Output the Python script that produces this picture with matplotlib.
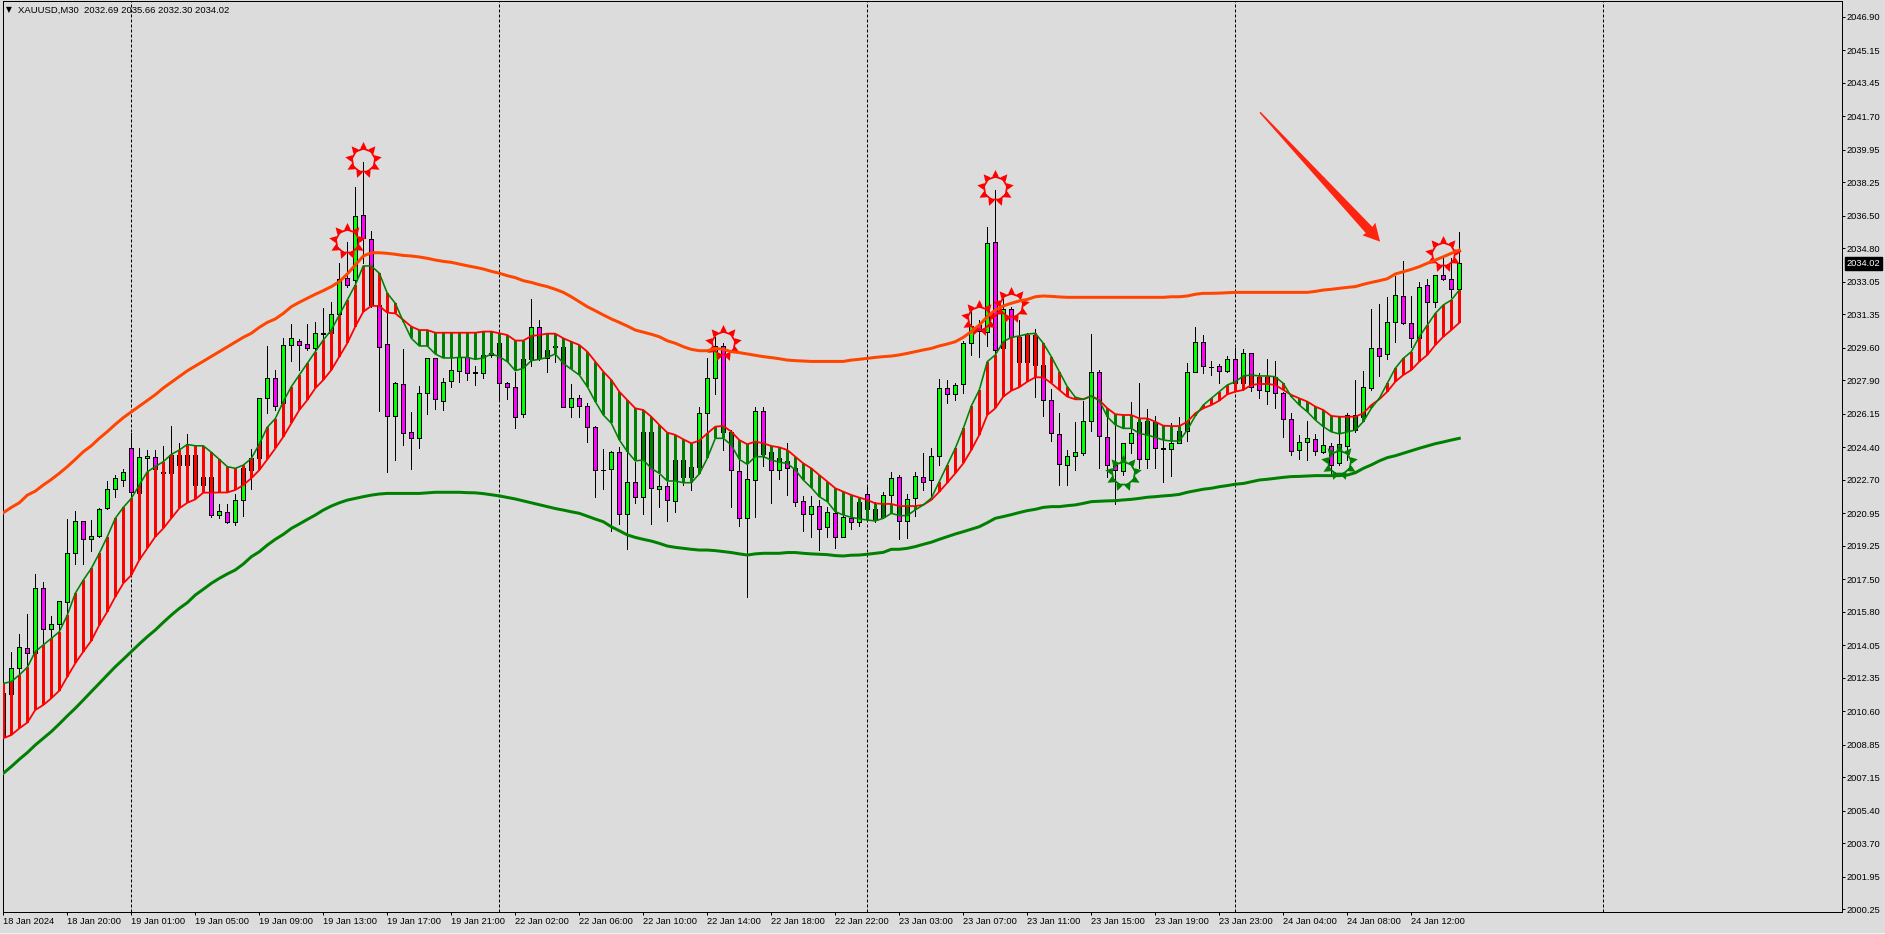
import numpy as np
import matplotlib
matplotlib.use("Agg")
import matplotlib.pyplot as plt
from matplotlib.path import Path
from matplotlib.patches import Polygon, Rectangle

plt.rcParams['font.family'] = ['Liberation Sans', 'DejaVu Sans']

# All prices are stored as offsets above this base
BASE = 2000.0

opens = [9.27,11.51,12.85,13.89,13.63,17.03,14.89,15.15,16.30,18.86,
20.53,19.59,19.75,21.21,22.20,22.67,24.34,22.03,23.86,23.91,
23.04,23.04,23.99,23.99,23.99,22.43,22.86,20.88,21.03,20.51,
21.63,23.22,23.83,26.96,28.01,26.70,29.73,29.98,29.78,29.57,
30.34,30.36,31.35,33.23,33.15,36.53,35.27,31.84,29.78,26.06,
27.69,25.19,24.87,27.22,29.05,26.80,27.85,28.41,29.10,28.30,
28.27,29.23,29.84,27.75,27.57,26.13,29.00,30.67,29.05,29.66,
29.66,26.53,26.96,26.58,25.45,23.19,23.25,24.17,20.89,22.57,
21.82,25.18,22.24,22.38,21.61,23.73,22.83,23.35,26.18,28.01,
29.71,25.22,23.15,20.69,22.68,26.28,24.14,23.20,23.67,23.30,
21.60,20.90,21.32,20.22,20.95,19.70,20.69,20.52,21.94,20.64,
20.74,21.89,22.83,20.53,21.77,22.83,22.68,23.96,27.48,27.20,
27.69,29.84,30.79,30.45,35.11,29.57,31.61,30.18,28.88,30.27,
28.70,26.87,25.08,23.46,23.93,24.09,25.76,28.32,24.92,23.46,
23.16,24.61,25.74,23.77,25.74,24.33,24.30,24.64,25.27,28.32,
29.89,28.58,28.63,28.37,29.00,27.74,29.31,28.09,27.33,28.09,
27.22,25.86,24.24,24.70,24.82,24.17,24.47,23.57,24.49,25.30,
26.00,27.52,29.57,29.26,30.93,32.29,30.88,30.09,32.87,31.98,
33.39,33.18,32.69]

highs = [13.19,13.68,14.62,15.67,17.78,17.34,15.58,16.35,20.65,21.07,
20.53,20.60,21.21,22.64,22.95,23.25,25.13,24.34,24.26,24.26,
24.47,25.51,24.60,25.09,24.52,23.56,22.95,21.43,21.43,21.96,
23.40,24.29,26.96,29.70,28.44,30.10,30.85,30.05,30.83,30.93,
31.66,31.98,34.02,35.11,38.00,39.30,35.69,32.00,31.40,27.83,
29.52,26.23,27.62,29.05,29.05,28.01,29.05,29.14,29.14,28.65,
29.31,29.49,29.84,27.80,28.36,29.02,32.15,31.06,29.49,29.75,
29.70,27.69,27.14,26.70,25.52,24.31,24.22,24.40,24.26,23.65,
25.40,25.40,22.95,22.60,23.73,23.73,23.40,26.53,29.05,30.15,
29.84,25.30,23.74,23.91,26.53,26.53,24.44,24.26,24.61,23.56,
21.87,21.87,21.65,21.30,21.21,20.95,21.04,21.65,22.31,21.56,
22.08,23.13,22.95,21.94,23.09,24.12,24.35,27.95,27.92,27.78,
29.97,31.58,31.05,35.90,37.85,32.19,31.75,31.05,30.35,30.57,
29.00,27.43,26.18,24.26,25.71,26.84,30.32,28.44,26.00,25.51,
24.61,26.75,27.74,26.39,26.04,25.48,25.66,26.00,28.79,30.67,
30.27,28.91,28.76,29.19,29.57,29.52,29.35,28.30,29.02,28.91,
27.30,26.18,25.06,25.78,25.08,25.57,24.61,26.00,26.18,27.92,
28.39,31.63,31.89,32.27,33.35,34.14,32.31,33.06,33.20,33.41,
34.36,34.28,35.66]

lows = [9.10,11.37,12.59,13.02,13.54,13.98,14.33,14.85,15.72,18.30,
18.30,18.98,19.73,21.16,21.82,22.39,21.91,22.03,23.21,23.04,
23.00,23.00,23.39,23.39,22.43,22.34,20.77,20.69,20.43,20.36,
20.81,22.21,23.75,26.18,26.35,26.53,28.93,28.44,29.50,29.49,
29.84,30.19,31.32,32.80,32.80,34.02,31.75,26.32,23.13,23.74,
24.52,23.27,24.38,26.14,26.39,26.35,27.54,27.83,27.92,27.66,
28.04,29.14,26.90,26.95,25.43,26.00,28.65,28.96,28.36,28.88,
26.49,26.00,26.00,24.70,21.82,22.22,20.04,20.39,19.10,21.50,
20.91,20.39,21.30,20.56,21.03,22.43,22.17,23.20,25.22,27.19,
24.26,21.26,20.31,16.60,20.74,23.42,21.47,22.73,21.91,21.35,
20.05,19.73,19.03,19.73,19.16,19.70,20.13,20.31,20.78,20.48,
20.69,21.30,19.59,19.68,20.83,22.17,21.82,23.48,26.73,26.87,
27.26,29.23,29.14,29.72,28.96,29.49,30.10,28.62,28.62,27.05,
26.05,24.75,22.43,22.43,23.22,24.00,25.27,23.30,22.87,21.42,
22.95,24.09,23.30,23.30,23.30,22.61,22.92,24.61,24.75,28.32,
28.30,28.18,27.78,28.35,27.40,27.40,27.34,27.00,26.66,26.44,
24.96,24.00,23.79,23.74,24.00,24.09,23.04,23.48,23.74,25.20,
25.83,27.40,28.12,29.02,29.89,30.83,29.66,30.04,30.79,31.75,
33.14,32.27,32.30]

closes = [11.54,12.85,13.94,13.63,17.03,14.89,15.15,16.35,18.86,20.53,
19.59,19.75,21.16,22.20,22.78,23.09,22.04,23.87,23.94,23.25,
23.12,23.99,23.47,23.47,22.43,22.86,20.86,21.09,20.48,21.63,
23.30,23.85,26.96,28.01,26.56,29.75,30.10,29.73,29.57,30.36,
30.38,31.35,33.20,32.87,36.47,35.32,31.84,29.66,26.06,27.75,
25.13,24.87,27.22,29.05,26.90,27.83,28.44,29.14,28.27,28.34,
29.23,29.31,27.75,27.54,25.97,29.00,30.67,29.05,29.49,29.70,
26.53,26.96,26.58,25.48,23.22,23.23,24.17,20.89,22.57,21.82,
25.18,22.25,22.38,21.66,23.73,22.83,23.35,26.18,28.01,29.71,
25.22,23.22,20.69,22.73,26.28,24.05,23.20,23.83,23.30,21.56,
20.90,21.32,20.12,21.00,19.70,20.78,20.52,21.56,21.16,21.16,
21.89,22.78,20.53,21.72,22.88,22.61,23.93,27.48,27.20,27.64,
29.84,30.76,30.48,35.06,29.49,31.61,30.18,28.88,30.27,28.70,
26.87,25.13,23.53,23.93,24.14,25.76,28.32,24.97,23.46,23.20,
24.61,25.13,23.77,25.79,24.37,24.37,24.64,25.27,28.32,29.89,
28.65,28.62,28.37,29.03,27.74,29.31,27.57,27.40,28.09,27.22,
25.86,24.19,24.66,24.87,24.19,24.52,23.46,24.56,26.09,26.09,
27.53,29.57,29.19,30.93,32.34,30.88,30.09,32.76,31.98,33.39,
33.18,32.66,34.02]

ma_fast = [12.06,12.15,12.50,12.90,13.72,14.07,14.41,14.76,15.63,16.77,
17.46,18.07,18.86,19.73,20.69,21.26,21.73,22.43,23.12,23.39,
23.65,24.03,24.26,24.55,24.48,24.48,24.14,23.77,23.39,23.30,
23.47,23.82,24.57,25.45,25.90,26.79,27.57,28.18,28.79,29.40,
30.01,30.53,31.32,32.10,32.89,33.88,33.88,33.50,32.45,31.93,
30.97,30.10,29.70,29.70,29.28,29.07,29.07,29.10,29.10,29.00,
29.07,29.28,29.14,28.88,28.41,28.53,28.93,29.00,29.10,29.28,
28.79,28.48,28.18,27.57,26.79,26.09,25.66,24.79,24.18,23.69,
23.74,23.30,23.04,22.64,22.64,22.55,22.55,23.01,23.83,24.87,
24.87,24.52,23.77,23.51,23.91,23.91,23.74,23.62,23.56,23.22,
22.69,22.29,21.82,21.56,21.04,20.86,20.74,20.66,20.60,20.55,
20.69,20.95,20.83,20.83,21.13,21.39,21.74,22.61,23.48,24.35,
25.39,26.56,27.40,28.88,29.23,29.92,30.15,30.22,30.32,30.36,
29.84,29.14,28.35,27.57,27.02,26.91,27.08,26.84,26.00,25.57,
25.39,25.39,25.13,25.04,24.92,24.78,24.73,24.73,25.31,26.04,
26.61,26.96,27.31,27.66,27.83,28.13,28.18,28.13,28.13,28.09,
27.74,27.05,26.61,26.26,25.83,25.48,25.21,25.10,25.21,25.30,
25.74,26.44,26.96,27.74,28.53,29.05,29.40,30.18,30.79,31.40,
31.84,32.10,32.62]

ma_slow = [9.19,9.36,9.71,10.01,10.67,10.93,11.28,11.68,12.41,13.11,
13.72,14.29,15.11,15.81,16.59,17.29,17.72,18.51,19.12,19.73,
20.16,20.69,21.21,21.50,21.68,22.03,22.03,22.04,22.04,22.17,
22.43,22.78,23.21,23.77,24.34,24.95,25.65,26.35,26.87,27.49,
27.92,28.44,29.14,29.84,30.71,31.49,31.79,31.79,31.44,31.40,
31.06,30.71,30.53,30.53,30.39,30.39,30.39,30.39,30.39,30.39,
30.45,30.45,30.36,30.27,29.98,29.98,30.22,30.27,30.34,30.34,
30.10,29.92,29.75,29.40,28.88,28.36,27.92,27.31,26.87,26.44,
26.35,26.00,25.57,25.17,25.05,24.82,24.61,24.75,25.13,25.48,
25.52,25.22,24.78,24.56,24.70,24.61,24.47,24.40,24.26,23.91,
23.56,23.30,22.95,22.61,22.26,22.08,21.91,21.77,21.65,21.47,
21.44,21.44,21.33,21.33,21.33,21.39,21.65,22.08,22.55,23.04,
23.56,24.26,25.05,26.09,26.44,27.05,27.36,27.54,27.83,28.06,
28.06,27.75,27.40,27.05,26.91,26.91,27.08,26.87,26.44,26.13,
26.09,26.09,25.91,25.91,25.74,25.53,25.51,25.51,25.74,26.18,
26.44,26.61,26.84,27.17,27.31,27.40,27.66,27.71,27.71,27.66,
27.40,27.14,26.96,26.79,26.53,26.35,26.04,26.00,26.00,26.00,
26.18,26.61,26.91,27.31,27.83,28.18,28.44,28.88,29.23,29.75,
30.18,30.53,30.91]

ma_upper = [20.98,21.26,21.50,21.90,22.11,22.43,22.72,23.04,23.39,23.77,
24.17,24.48,24.87,25.22,25.60,25.95,26.25,26.55,26.85,27.15,
27.50,27.80,28.10,28.40,28.65,28.90,29.15,29.40,29.65,29.90,
30.15,30.36,30.67,30.93,31.11,31.40,31.75,31.98,32.19,32.40,
32.59,32.80,33.06,33.46,33.93,34.40,34.57,34.57,34.54,34.49,
34.43,34.40,34.35,34.28,34.19,34.12,34.07,33.98,33.89,33.81,
33.72,33.60,33.50,33.37,33.27,33.11,33.02,32.90,32.80,32.66,
32.50,32.27,32.01,31.75,31.54,31.32,31.11,30.93,30.74,30.53,
30.42,30.31,30.18,29.97,29.84,29.66,29.52,29.45,29.45,29.57,
29.52,29.40,29.35,29.28,29.21,29.14,29.09,29.03,28.96,28.93,
28.91,28.89,28.89,28.89,28.89,28.89,28.96,29.00,29.05,29.10,
29.14,29.17,29.23,29.31,29.40,29.49,29.57,29.70,29.80,29.92,
30.15,30.45,30.79,31.23,31.58,31.79,31.93,32.05,32.13,32.27,
32.31,32.29,32.26,32.24,32.24,32.24,32.24,32.24,32.24,32.24,
32.24,32.24,32.24,32.24,32.24,32.24,32.27,32.27,32.31,32.40,
32.45,32.45,32.46,32.48,32.50,32.50,32.50,32.50,32.50,32.50,
32.50,32.50,32.50,32.50,32.55,32.62,32.66,32.71,32.76,32.80,
32.92,33.02,33.11,33.21,33.46,33.58,33.70,33.84,34.02,34.19,
34.36,34.54,34.71]

ma_lower = [7.36,7.71,8.09,8.44,8.84,9.19,9.54,9.94,10.36,10.76,
11.19,11.63,12.06,12.50,12.93,13.32,13.72,14.12,14.50,14.85,
15.25,15.63,15.98,16.28,16.68,16.98,17.29,17.55,17.78,17.99,
18.30,18.68,18.94,19.29,19.59,19.85,20.16,20.39,20.63,20.86,
21.12,21.33,21.50,21.64,21.73,21.82,21.90,21.96,21.99,21.99,
21.99,21.99,21.99,22.02,22.05,22.05,22.05,22.05,22.03,22.02,
21.98,21.92,21.86,21.78,21.70,21.60,21.50,21.40,21.30,21.20,
21.12,21.03,20.95,20.80,20.65,20.51,20.25,20.04,19.82,19.69,
19.59,19.50,19.38,19.24,19.17,19.12,19.07,19.03,19.03,19.00,
18.95,18.90,18.83,18.77,18.83,18.86,18.86,18.86,18.90,18.90,
18.86,18.83,18.81,18.79,18.74,18.72,18.76,18.77,18.81,18.86,
18.91,19.07,19.07,19.12,19.21,19.33,19.44,19.59,19.73,19.87,
19.99,20.12,20.25,20.46,20.69,20.78,20.88,20.99,21.09,21.16,
21.26,21.30,21.30,21.35,21.39,21.47,21.56,21.58,21.60,21.61,
21.65,21.68,21.73,21.79,21.82,21.86,21.89,21.94,22.05,22.13,
22.21,22.26,22.34,22.40,22.47,22.51,22.60,22.69,22.73,22.78,
22.83,22.87,22.88,22.90,22.92,22.92,22.92,22.92,22.95,23.07,
23.30,23.48,23.69,23.86,23.96,24.09,24.22,24.35,24.47,24.59,
24.68,24.78,24.87]

# Sun-shaped signal markers: bar index and price offset
sun_red_bars = [45, 43, 90, 124, 122, 126, 180]
sun_red_prices = [39.42, 35.20, 29.87, 37.94, 31.17, 31.84, 34.49]
sun_green_bars = [140, 167]
sun_green_prices = [23.04, 23.65]

# Hand-drawn arrow in bar index and price offset
arrow_bars = [157.15, 171.14, 171.5, 172.1, 169.9, 170.31, 157.03]
arrow_prices = [41.94, 35.92, 36.14, 35.15, 35.48, 35.60, 41.88]

separator_bars = [16, 62, 108, 154, 200]

x_tick_bars = [0, 8, 16, 24, 32, 40, 48, 56, 64, 72, 80, 88, 96, 104, 112, 120, 128,
               136, 144, 152, 160, 168, 176]
x_tick_labels = ["18 Jan 2024", "18 Jan 20:00", "19 Jan 01:00", "19 Jan 05:00", "19 Jan 09:00",
                 "19 Jan 13:00", "19 Jan 17:00", "19 Jan 21:00", "22 Jan 02:00", "22 Jan 06:00",
                 "22 Jan 10:00", "22 Jan 14:00", "22 Jan 18:00", "22 Jan 22:00", "23 Jan 03:00",
                 "23 Jan 07:00", "23 Jan 11:00", "23 Jan 15:00", "23 Jan 19:00", "23 Jan 23:00",
                 "24 Jan 04:00", "24 Jan 08:00", "24 Jan 12:00"]
y_tick_values = [2046.90, 2045.15, 2043.45, 2041.70, 2039.95, 2038.25, 2036.50, 2034.80, 2033.05,
                 2031.35, 2029.60, 2027.90, 2026.15, 2024.40, 2022.70, 2020.95, 2019.25, 2017.50,
                 2015.80, 2014.05, 2012.35, 2010.60, 2008.85, 2007.15, 2005.40, 2003.70, 2001.95,
                 2000.25]

title_text = "XAUUSD,M30  2032.69 2035.66 2032.30 2034.02"
last_price = 2034.02

BG = '#DCDCDC'
W, H = 1885, 934
PX = 72 / 100  # one pixel in points

fig = plt.figure(figsize=(W / 100, H / 100), dpi=100, facecolor=BG)
left, right, top, bottom = 2.5, 1841.7, 1.0, 912.0
ax = fig.add_axes([left / W, 1 - bottom / H, (right - left) / W, (bottom - top) / H], facecolor=BG)
ax.set_xlim(-0.1, 229.8)
ax.set_ylim(2000.11, 2047.73)

o = BASE + np.array(opens)
h = BASE + np.array(highs)
l = BASE + np.array(lows)
c = BASE + np.array(closes)
fast = BASE + np.array(ma_fast)
slow = BASE + np.array(ma_slow)
upper = BASE + np.array(ma_upper)
lower = BASE + np.array(ma_lower)
bars = np.arange(len(o))

for b in separator_bars:
    ax.axvline(b, color='black', lw=PX, linestyle=(0, (3, 2)), zorder=0.5)

ax.vlines(bars, l, h, color='black', lw=PX, zorder=1, antialiased=False)
up = c >= o
ax.bar(bars, np.abs(c - o), bottom=np.minimum(o, c), width=4 / 8,
       color=np.where(up, '#00FF00', '#FF00FF'), edgecolor='black', linewidth=PX,
       zorder=2, antialiased=False)

hist_up = fast >= slow
ax.bar(bars, np.abs(fast - slow), bottom=np.minimum(fast, slow), width=3.2 / 8,
       color=np.where(hist_up, '#FF0000', '#008000'), linewidth=0, zorder=3, antialiased=False)

# Sun marker shape: nine triangular spikes around a hollow disc with a hairline ring
n = 9
angles = np.pi / 2 + 2 * np.pi * np.arange(n) / n
half = np.radians(15)
r_in, r_out, r_hole = 12.4, 18.5, 12.0
verts = []
for a in angles:
    verts += [(r_in * np.cos(a + half), r_in * np.sin(a + half)),
              (r_out * np.cos(a), r_out * np.sin(a)),
              (r_in * np.cos(a - half), r_in * np.sin(a - half))]
verts = verts[::-1]
verts.append(verts[0])
codes = [Path.MOVETO] + [Path.LINETO] * (len(verts) - 2) + [Path.CLOSEPOLY]
hole_a = np.linspace(0, 2 * np.pi, 37)
hole = [(r_hole * np.cos(t), r_hole * np.sin(t)) for t in hole_a]
verts += hole
codes += [Path.MOVETO] + [Path.LINETO] * (len(hole) - 2) + [Path.CLOSEPOLY]
sun = Path(verts, codes)
ms = 2 * r_out * PX
ax.plot(sun_red_bars, BASE + np.array(sun_red_prices), ls='none', marker=sun, ms=ms,
        mfc='#FF0000', mew=0, zorder=4)
ax.plot(sun_green_bars, BASE + np.array(sun_green_prices), ls='none', marker=sun, ms=ms,
        mfc='#008000', mew=0, zorder=4)

ax.plot(bars, upper, color='#FF4500', lw=3 * PX, zorder=5, solid_joinstyle='round')
ax.plot(bars, lower, color='#008000', lw=3 * PX, zorder=5, solid_joinstyle='round')
ax.plot(bars, slow, color='#FF0000', lw=1.8 * PX, zorder=6)
ax.plot(bars, fast, color='#008000', lw=1.6 * PX, zorder=6)

ax.add_patch(Polygon(np.column_stack([arrow_bars, BASE + np.array(arrow_prices)]), closed=True,
                     facecolor='#FF2410', edgecolor='none', zorder=7))

for s in ax.spines.values():
    s.set_linewidth(PX)
    s.set_color('black')

ax.yaxis.tick_right()
ax.set_yticks(y_tick_values)
ax.set_yticklabels([f"{v:.2f}" for v in y_tick_values])
ax.set_xticks(x_tick_bars)
ax.set_xticklabels(x_tick_labels, ha='left')
ax.tick_params(axis='y', length=3 * PX, width=PX, pad=2 * PX, labelsize=6.7, colors='black')
ax.tick_params(axis='x', length=3 * PX, width=PX, pad=2.5 * PX, labelsize=6.7, colors='black')

# Current price tag on the scale
ax.text(1.0027, last_price, f"{last_price:.2f}", transform=ax.get_yaxis_transform(),
        ha='left', va='center', fontsize=6.7, color='white', zorder=10, clip_on=False,
        bbox=dict(facecolor='black', edgecolor='black', pad=1.3))

# Title row
fig.text(5.5 / W, 1 - 10 / H, "\u25BC", fontsize=5.5, color='black', va='center', ha='left',
         family='DejaVu Sans')
fig.text(17.7 / W, 1 - 10 / H, title_text, fontsize=6.8, color='black', va='center', ha='left')

# Lighter strip along the bottom of the window
fig.add_artist(Rectangle((0, 0), 1, 1.5 / H, transform=fig.transFigure, facecolor='#F0F0F0',
                         edgecolor='none'))

fig.savefig('out.png', dpi=100, facecolor=BG)
